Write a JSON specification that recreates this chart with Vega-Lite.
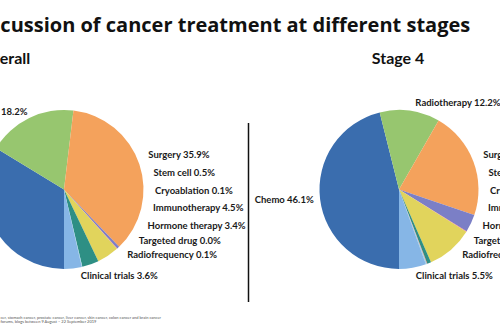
{
  "$schema": "https://vega.github.io/schema/vega-lite/v6.json",
  "width": 497,
  "height": 247,
  "autosize": "none",
  "padding": {"left": 0, "top": 66, "right": 3, "bottom": 17},
  "background": "white",
  "config": {"view": {"stroke": null}},
  "title": {
    "text": "Discussion of cancer treatment at different stages",
    "anchor": "start",
    "frame": "group",
    "dx": -30.5,
    "offset": 14,
    "font": "Open Sans",
    "fontSize": 20,
    "fontWeight": "bold",
    "color": "#111111"
  },
  "data": {
    "values": [
      {"stage": "Overall", "treatment": "Chemo", "value": 33.7, "label": "Chemo 33.7%"},
      {"stage": "Overall", "treatment": "Radiotherapy", "value": 18.2, "label": "Radiotherapy 18.2%"},
      {"stage": "Overall", "treatment": "Surgery", "value": 35.9, "label": "Surgery 35.9%"},
      {"stage": "Overall", "treatment": "Stem cell", "value": 0.5, "label": "Stem cell 0.5%"},
      {"stage": "Overall", "treatment": "Cryoablation", "value": 0.1, "label": "Cryoablation 0.1%"},
      {"stage": "Overall", "treatment": "Immunotherapy", "value": 4.5, "label": "Immunotherapy 4.5%"},
      {"stage": "Overall", "treatment": "Hormone therapy", "value": 3.4, "label": "Hormone therapy 3.4%"},
      {"stage": "Overall", "treatment": "Targeted drug", "value": 0.0, "label": "Targeted drug 0.0%"},
      {"stage": "Overall", "treatment": "Radiofrequency", "value": 0.1, "label": "Radiofrequency 0.1%"},
      {"stage": "Overall", "treatment": "Clinical trials", "value": 3.6, "label": "Clinical trials 3.6%"},
      {"stage": "Stage 4", "treatment": "Chemo", "value": 46.1, "label": "Chemo 46.1%"},
      {"stage": "Stage 4", "treatment": "Radiotherapy", "value": 12.2, "label": "Radiotherapy 12.2%"},
      {"stage": "Stage 4", "treatment": "Surgery", "value": 21.9, "label": "Surgery 21.9%"},
      {"stage": "Stage 4", "treatment": "Stem cell", "value": 3.6, "label": "Stem cell 3.6%"},
      {"stage": "Stage 4", "treatment": "Cryoablation", "value": 0.1, "label": "Cryoablation 0.1%"},
      {"stage": "Stage 4", "treatment": "Immunotherapy", "value": 9.5, "label": "Immunotherapy 9.5%"},
      {"stage": "Stage 4", "treatment": "Hormone therapy", "value": 0.8, "label": "Hormone therapy 0.8%"},
      {"stage": "Stage 4", "treatment": "Targeted drug", "value": 0.1, "label": "Targeted drug 0.1%"},
      {"stage": "Stage 4", "treatment": "Radiofrequency", "value": 0.2, "label": "Radiofrequency 0.2%"},
      {"stage": "Stage 4", "treatment": "Clinical trials", "value": 5.5, "label": "Clinical trials 5.5%"}
    ]
  },
  "transform": [
    {"window": [{"op": "row_number", "as": "rank"}], "groupby": ["stage"]}
  ],
  "resolve": {"scale": {"theta": "independent"}},
  "layer": [
    {
      "transform": [{"filter": "datum.stage == 'Overall'"}],
      "mark": {"type": "arc", "outerRadius": 79.5},
      "encoding": {
        "x": {
          "field": "stage", "type": "nominal",
          "scale": {"type": "point", "domain": ["Overall", "Stage 4"], "range": [64, 399], "padding": 0},
          "axis": {
            "orient": "top",
            "domain": false, "ticks": false, "tickSize": 0, "grid": false,
            "labelAngle": 0, "labelAlign": "center", "labelBaseline": "alphabetic",
            "labelPadding": 3,
            "labelFont": "Lato", "labelFontSize": 16, "labelFontWeight": "bold", "labelColor": "#111111",
            "labelOffset": {"condition": {"test": "datum.value == 'Overall'", "value": -60}, "value": -1.5},
            "title": ["cer, stomach cancer, prostate cancer, liver cancer, skin cancer, colon cancer and brain cancer", "forums, blogs between 9 August \u2013 22 September 2019"],
            "titleX": 0, "titleY": 249, "titleAlign": "left", "titleAnchor": "start", "titleBaseline": "top", "titleAngle": 0,
            "titleFont": "Lato", "titleFontSize": 4, "titleFontWeight": "normal", "titleColor": "#555555", "titleLineHeight": 4.6
          }
        },
        "theta": {"field": "value", "type": "quantitative", "stack": true, "scale": {"range": [3.14159265, 9.42477796], "nice": false}},
        "order": {"field": "rank", "type": "quantitative"},
        "color": {
          "field": "treatment", "type": "nominal", "legend": null,
          "scale": {
            "domain": ["Chemo", "Radiotherapy", "Surgery", "Stem cell", "Cryoablation", "Immunotherapy", "Hormone therapy", "Targeted drug", "Radiofrequency", "Clinical trials"],
            "range": ["#3A6DAE", "#97C66F", "#F4A25C", "#7B7FC6", "#DD5E97", "#E1D45C", "#2E8F84", "#E4604E", "#9AD3E3", "#86B6E6"]
          }
        }
      }
    },
    {
      "transform": [{"filter": "datum.stage == 'Stage 4'"}],
      "mark": {"type": "arc", "outerRadius": 79.5},
      "encoding": {
        "x": {"field": "stage", "type": "nominal"},
        "theta": {"field": "value", "type": "quantitative", "stack": true, "scale": {"range": [3.14159265, 9.42477796], "nice": false}},
        "order": {"field": "rank", "type": "quantitative"},
        "color": {"field": "treatment", "type": "nominal", "legend": null}
      }
    },
    {
      "transform": [{"filter": {"field": "treatment", "oneOf": ["Surgery", "Stem cell", "Cryoablation", "Immunotherapy", "Hormone therapy", "Targeted drug", "Radiofrequency"]}}],
      "mark": {"type": "text", "align": "left", "baseline": "middle", "radius": 91, "font": "Lato", "fontSize": 9.5, "fontWeight": "bold", "color": "#1a1a1a"},
      "encoding": {
        "x": {"field": "stage", "type": "nominal"},
        "theta": {"field": "treatment", "type": "nominal", "scale": {"type": "point", "domain": ["Surgery", "Stem cell", "Cryoablation", "Immunotherapy", "Hormone therapy", "Targeted drug", "Radiofrequency"], "range": [1.18682, 2.37365], "padding": 0}},
        "text": {"field": "label"}
      }
    },
    {
      "transform": [{"filter": "(datum.stage == 'Overall' && datum.treatment == 'Clinical trials') || (datum.stage == 'Stage 4' && (datum.treatment == 'Radiotherapy' || datum.treatment == 'Clinical trials'))"}],
      "mark": {"type": "text", "align": "left", "baseline": "middle", "radius": 88, "font": "Lato", "fontSize": 9.5, "fontWeight": "bold", "color": "#1a1a1a"},
      "encoding": {
        "x": {"field": "stage", "type": "nominal"},
        "theta": {"field": "treatment", "type": "nominal", "scale": {"type": "point", "domain": ["Radiotherapy", "Clinical trials"], "range": [0.1868, 2.9496], "padding": 0}},
        "text": {"field": "label"}
      }
    },
    {
      "transform": [{"filter": "(datum.stage == 'Overall' && datum.treatment == 'Radiotherapy') || (datum.stage == 'Stage 4' && datum.treatment == 'Chemo')"}],
      "mark": {"type": "text", "align": "right", "baseline": "middle", "radius": 86, "font": "Lato", "fontSize": 9.5, "fontWeight": "bold", "color": "#1a1a1a"},
      "encoding": {
        "x": {"field": "stage", "type": "nominal"},
        "theta": {"field": "treatment", "type": "nominal", "scale": {"type": "point", "domain": ["Chemo", "Radiotherapy"], "range": [4.5867, 5.8469], "padding": 0}},
        "text": {"field": "label"}
      }
    },
    {
      "data": {"values": [{"part": "divider"}]},
      "mark": {"type": "rule", "color": "#111111", "strokeWidth": 1.5},
      "encoding": {
        "y": {"datum": 0.7692, "type": "quantitative", "scale": {"domain": [0, 1], "nice": false, "zero": false}, "axis": null},
        "y2": {"datum": 0.0445}
      }
    }
  ]
}
